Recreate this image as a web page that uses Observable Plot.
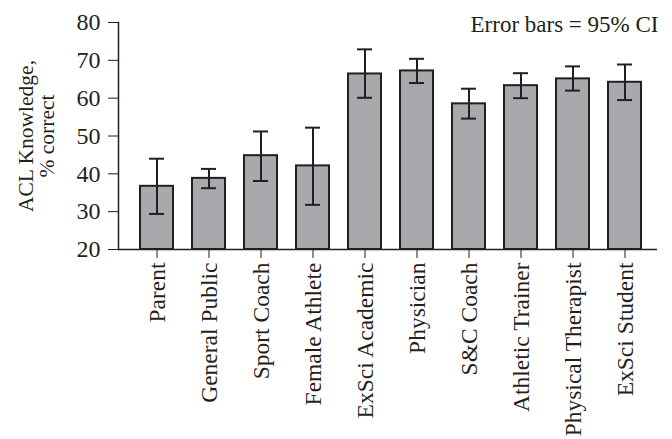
<!DOCTYPE html>
<html>
<head>
<meta charset="utf-8">
<script src="https://cdn.jsdelivr.net/npm/d3@7"></script>
<script src="https://cdn.jsdelivr.net/npm/@observablehq/plot@0.6"></script>
<style>
  html, body { margin: 0; padding: 0; background: #fff; }
</style>
</head>
<body>
<div id="chart"></div>
<script>
const categories = ["Parent", "General Public", "Sport Coach", "Female Athlete", "ExSci Academic", "Physician", "S&C Coach", "Athletic Trainer", "Physical Therapist", "ExSci Student"];
const means = [36.7, 38.8, 44.8, 42.1, 66.4, 67.2, 58.5, 63.3, 65.1, 64.2];
const ciLow = [29.4, 36.2, 38.1, 31.8, 60.1, 64.0, 54.6, 60.0, 62.0, 59.5];
const ciHigh = [44.0, 41.3, 51.2, 52.2, 72.9, 70.4, 62.5, 66.6, 68.4, 68.9];
const yTicks = [20, 30, 40, 50, 60, 70, 80];

const data = categories.map((c, i) => ({group: c, mean: means[i], lo: ciLow[i], hi: ciHigh[i]}));

const ink = "#231f20";
const font = "'Liberation Serif', 'DejaVu Serif', serif";

const chart = Plot.plot({
  width: 672,
  height: 439,
  marginTop: 22,
  marginBottom: 190,
  marginLeft: 118,
  marginRight: 15,
  style: {fontFamily: font, fontSize: "22px", color: ink, background: "#fff"},
  x: {domain: categories, paddingInner: 0.367, paddingOuter: 0.3, insetLeft: 6, label: null},
  y: {domain: [20, 80], label: null},
  marks: [
    Plot.barY(data, {x: "group", y1: 20, y2: "mean", fill: "#a7a9ac", stroke: ink, strokeWidth: 2}),
    Plot.ruleX(data, {x: "group", y1: "lo", y2: "hi", stroke: ink, strokeWidth: 2}),
    Plot.tickY(data, {x: "group", y: "lo", stroke: ink, strokeWidth: 2, insetLeft: 9, insetRight: 9}),
    Plot.tickY(data, {x: "group", y: "hi", stroke: ink, strokeWidth: 2, insetLeft: 9, insetRight: 9}),
    Plot.ruleY([20], {stroke: ink, strokeWidth: 1.5}),
    Plot.frame({anchor: "left", stroke: ink, strokeWidth: 1.5}),
    Plot.axisY({ticks: yTicks, tickSize: 10, tickPadding: 8, stroke: ink, fill: ink, fontSize: 24, label: null}),
    Plot.axisX({tickSize: 9, tickPadding: 4, tickRotate: -90, stroke: ink, fill: ink, fontSize: 23.5, label: null}),
    Plot.text(["ACL Knowledge,\n% correct"], {frameAnchor: "left", dx: -82, rotate: -90, fontSize: 21.5, lineHeight: 0.98, fill: ink, textAnchor: "middle", lineAnchor: "middle"}),
    Plot.text(["Error bars = 95% CI"], {frameAnchor: "top-right", textAnchor: "end", lineAnchor: "middle", dx: 1, dy: 2, fontSize: 23, fill: ink})
  ]
});
document.getElementById("chart").appendChild(chart);
</script>
</body>
</html>
